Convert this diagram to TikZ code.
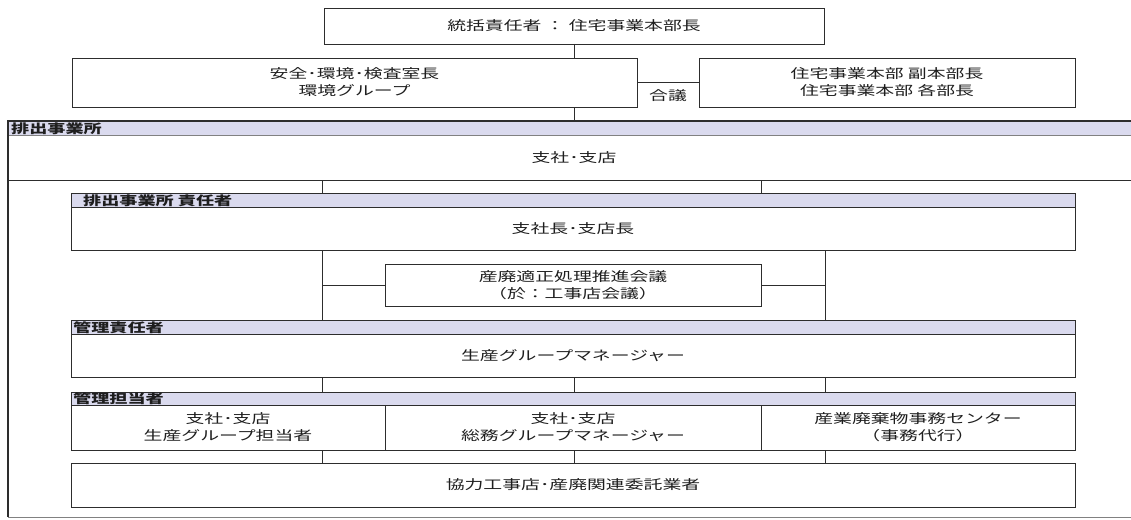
\documentclass[tikz,border=0pt]{standalone}
\usepackage{fontspec}
\newfontfamily\jp[FakeStretch=1.45]{Noto Sans CJK JP}
\definecolor{hdr}{RGB}{218,218,238}
\definecolor{linec}{RGB}{45,45,45}
\definecolor{txtc}{RGB}{30,30,30}
\begin{document}
\begin{tikzpicture}[x=1pt,y=-1pt,
  box/.style={draw=linec, line width=0.7pt, inner sep=0pt, outer sep=0pt, anchor=north west, fill=white,
    font=\jp\fontsize{13}{17}\selectfont, text=txtc, align=center},
  hbox/.style={box, fill=hdr},
  txt/.style={inner sep=0pt, font=\jp\fontsize{13}{17}\selectfont, text=txtc, align=center},
  hdrtxt/.style={inner sep=0pt, anchor=west, font=\jp\bfseries\fontsize{12.5}{14}\selectfont, text=txtc},
  conn/.style={draw=linec, line width=0.7pt}]
\useasboundingbox (0,0) rectangle (1131,519);
\fill[white] (0,0) rectangle (1131,519);
% x positions of connectors
\coordinate (xa) at (322,0);
\coordinate (xb) at (574,0);
\coordinate (xc) at (761,0);
\coordinate (xd) at (825,0);
% top part
\node[box, minimum width=500pt, minimum height=36pt] (T) at (324,8) {統括責任者 ： 住宅事業本部長};
\node[box, minimum width=565pt, minimum height=49pt] (L) at (72,58) {安全･環境･検査室長\\環境グループ};
\node[box, minimum width=376pt, minimum height=49pt] (R) at (699,58) {住宅事業本部 副本部長\\住宅事業本部 各部長};
\node[txt] (gogi) at (668,96) {合議};
% frame
\node[anchor=north west, minimum width=1132pt, minimum height=396pt, inner sep=0pt, outer sep=0pt] (F) at (8,121) {};
\fill[hdr] (8,121) rectangle (1140,135);
\draw[linec!60, line width=0.5pt] (8,135) -- (1140,135);
\node[anchor=north west, minimum width=1132pt, minimum height=45pt, inner sep=0pt, outer sep=0pt,
  font=\jp\fontsize{13}{17}\selectfont, text=txtc] (F1) at (8,135) {支社･支店};
\draw[conn] (F1.south west) -- (F1.south east);
\draw[linec, line width=1.5pt] (1140,121) -- (8,121) -- (8,517);
\draw[linec!60, line width=0.6pt] (8,517) -- (1140,517);
\node[hdrtxt] (Fh) at (11,128.5) {排出事業所};
% connectors top
\draw[conn] (T.south) -- (T.south |- L.north);
\draw[conn] (L.south -| T.south) -- (T.south |- F.north);
\draw[conn] (L.east) -- (R.west);
% block 1
\node[hbox, minimum width=1004pt, minimum height=14pt] (B1h) at (71,193) {};
\node[hdrtxt] (B1l) at (83,200.5) {排出事業所 責任者};
\node[box, minimum width=1004pt, minimum height=43pt] (B1) at (71,207) {支社長･支店長};
\draw[conn] (xa |- F1.south) -- (xa |- B1h.north);
\draw[conn] (xc |- F1.south) -- (xc |- B1h.north);
% meeting
\node[box, minimum width=376pt, minimum height=42pt] (M) at (385,264) {産廃適正処理推進会議\\（於：工事店会議）};
% block 2
\node[hbox, minimum width=1004pt, minimum height=14pt] (B2h) at (71,320) {};
\node[hdrtxt] (B2l) at (73,327.5) {管理責任者};
\node[box, minimum width=1004pt, minimum height=43pt] (B2) at (71,334) {生産グループマネージャー};
\draw[conn] (xa |- B1.south) -- (xa |- B2h.north);
\draw[conn] (xd |- B1.south) -- (xd |- B2h.north);
\draw[conn] (xa |- M.west) -- (M.west);
\draw[conn] (M.east) -- (xd |- M.east);
% block 3
\node[hbox, minimum width=1004pt, minimum height=13pt] (B3h) at (71,392) {};
\node[hdrtxt] (B3l) at (73,399) {管理担当者};
\node[box, minimum width=314pt, minimum height=45pt] (C1) at (71,405) {支社･支店\\生産グループ担当者};
\node[box, minimum width=376pt, minimum height=45pt] (C2) at (385,405) {支社･支店\\総務グループマネージャー};
\node[box, minimum width=314pt, minimum height=45pt] (C3) at (761,405) {産業廃棄物事務センター\\（事務代行）};
\draw[conn] (xa |- B2.south) -- (xa |- B3h.north);
\draw[conn] (xb |- B2.south) -- (xb |- B3h.north);
\draw[conn] (xd |- B2.south) -- (xd |- B3h.north);
% block 4
\node[box, minimum width=1004pt, minimum height=44pt] (B4) at (71,463) {協力工事店･産廃関連委託業者};
\draw[conn] (xa |- C1.south) -- (xa |- B4.north);
\draw[conn] (xb |- C2.south) -- (xb |- B4.north);
\draw[conn] (xd |- C3.south) -- (xd |- B4.north);
\end{tikzpicture}
\end{document}
